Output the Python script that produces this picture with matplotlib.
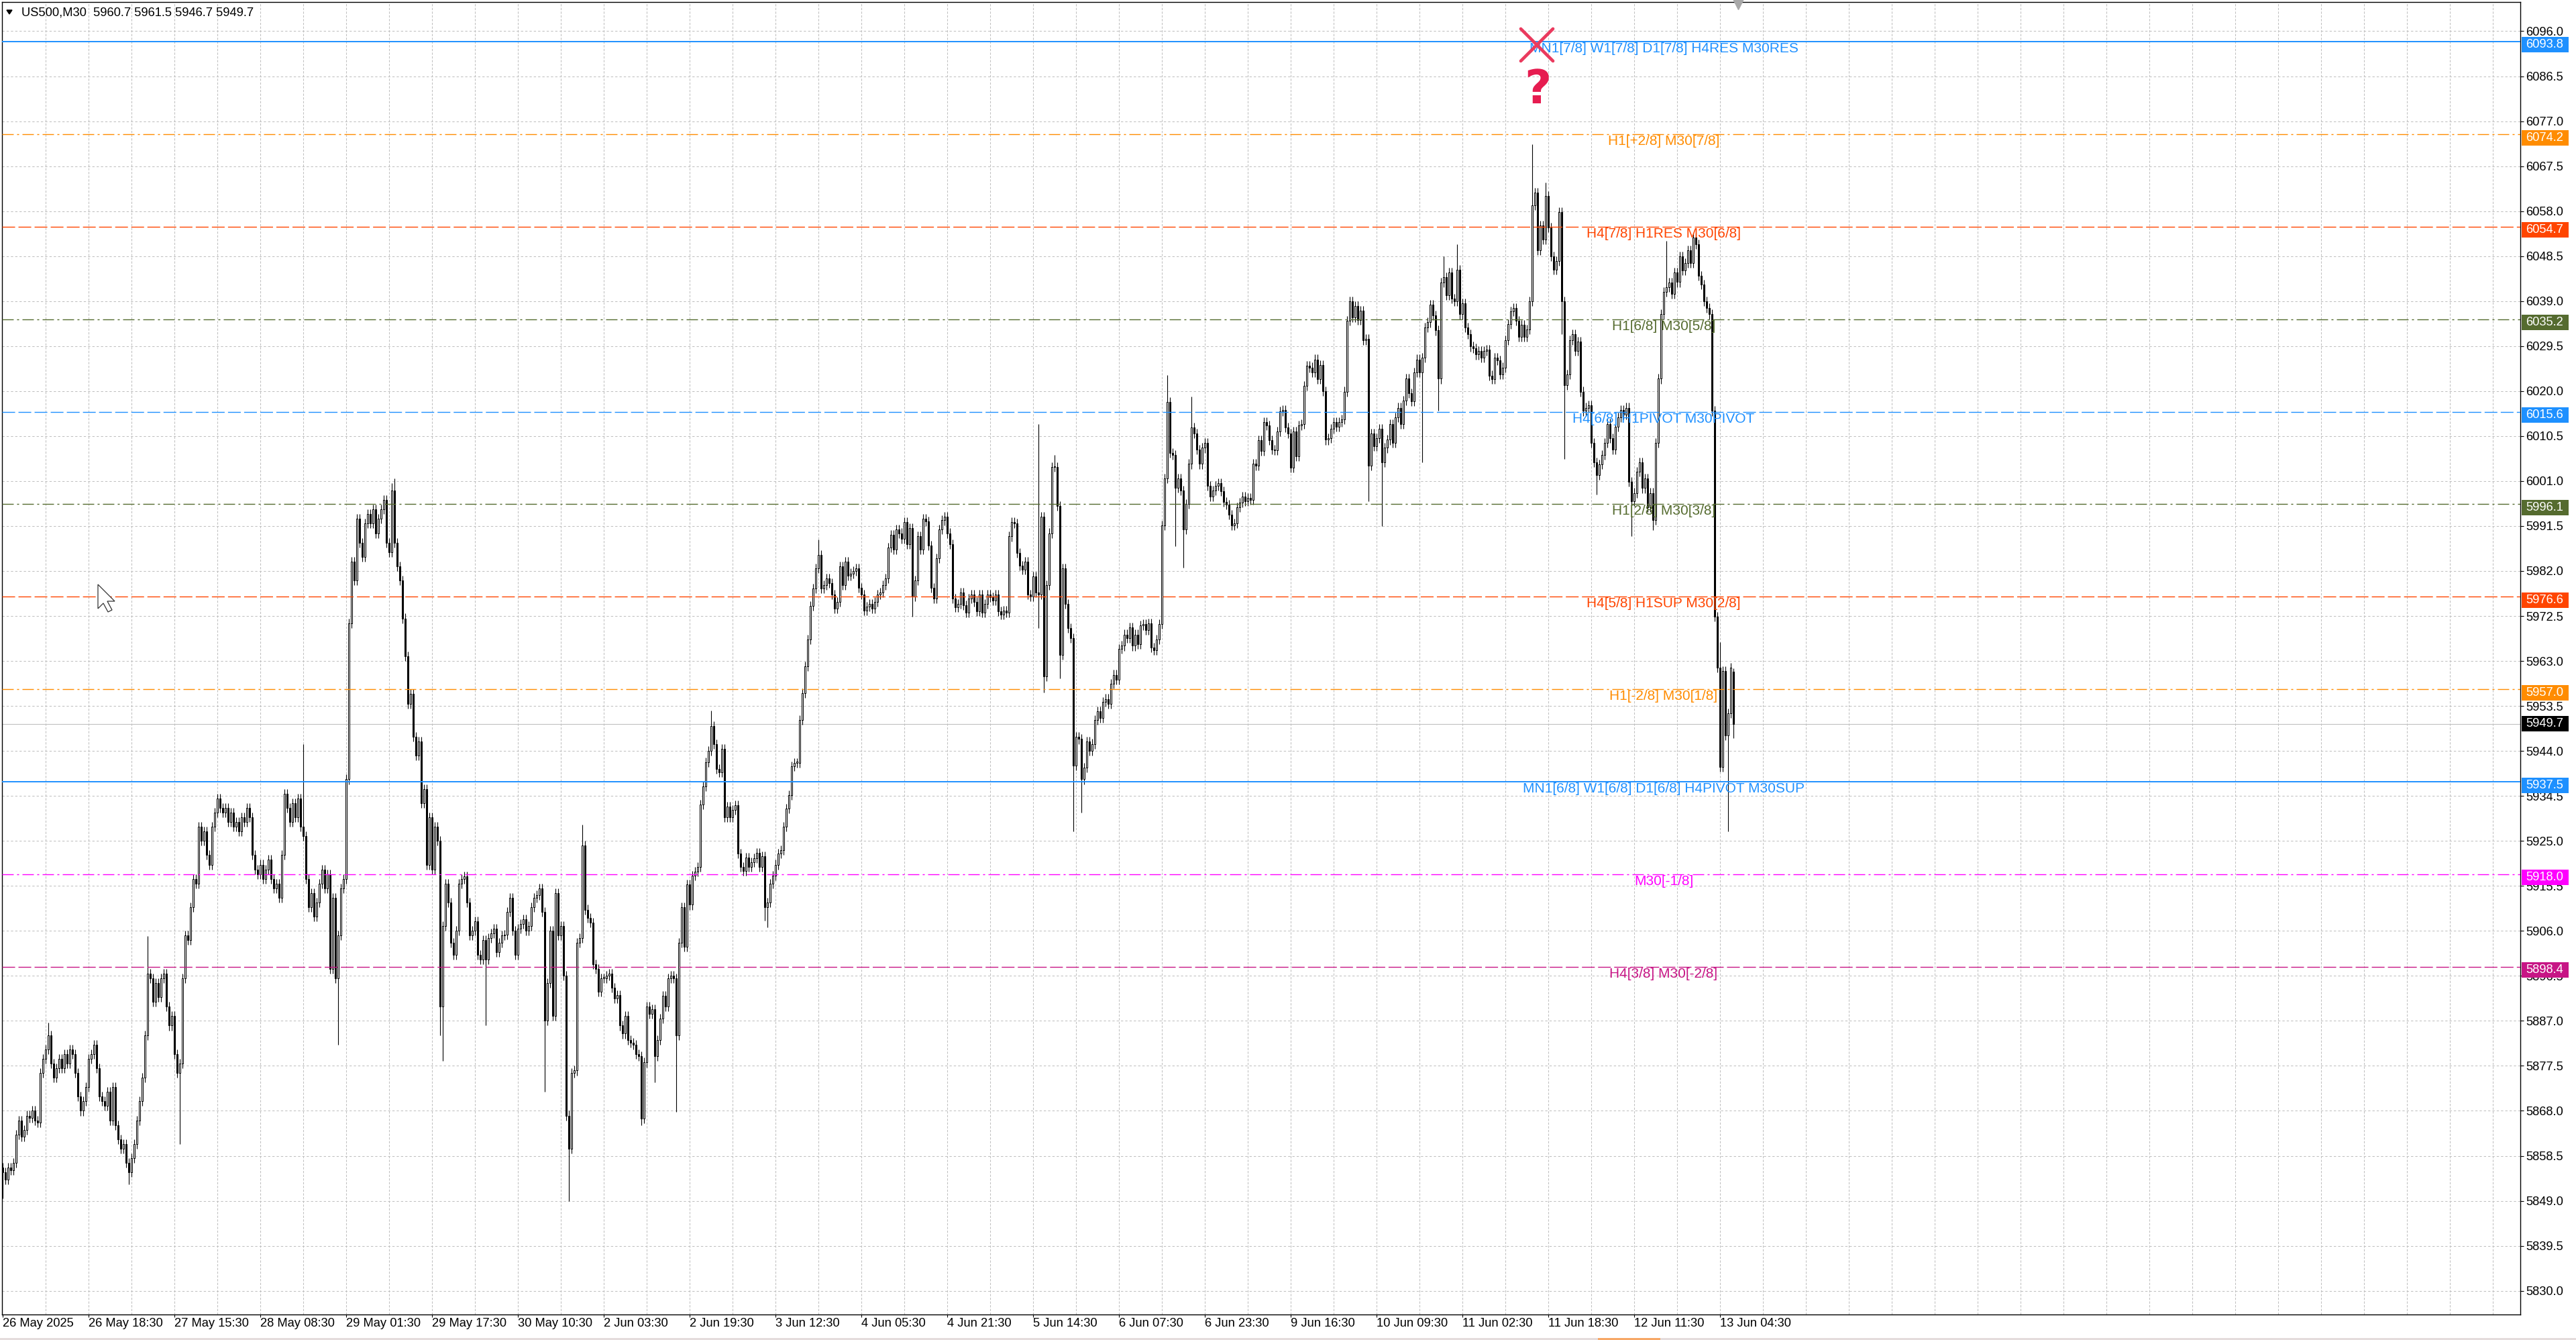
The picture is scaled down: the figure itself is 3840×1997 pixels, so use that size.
import numpy as np
import matplotlib
matplotlib.use("Agg")
import matplotlib.pyplot as plt
from matplotlib.patches import Rectangle, Polygon
import matplotlib.transforms as mtransforms

plt.rcParams['font.family'] = ['Liberation Sans', 'DejaVu Sans']
plt.rcParams['lines.scale_dashes'] = False

# ---------------------------------------------------------------- data
symbol = "US500,M30"
last_ohlc = [5960.7, 5961.5, 5946.7, 5949.7]
first_open = 5856.0

closes = [
    # 26 May - 29 May
    5855.0, 5853.5, 5856.0, 5855.5, 5857.0, 5863.0, 5866.0, 5862.5, 5864.0, 5867.0,
    5866.5, 5868.0, 5866.0, 5865.5, 5876.0, 5879.0, 5881.0, 5884.0, 5878.0, 5875.0,
    5877.0, 5879.0, 5877.0, 5880.0, 5878.0, 5881.0, 5880.0, 5876.0, 5871.0, 5868.0,
    5870.0, 5873.0, 5879.0, 5880.0, 5882.0, 5877.0, 5871.0, 5870.0, 5869.0, 5872.0,
    5866.0, 5873.0, 5865.0, 5862.0, 5860.0, 5861.0, 5857.0, 5855.0, 5858.0, 5861.0,
    5866.0, 5870.0, 5875.0, 5884.0, 5897.0, 5896.0, 5891.0, 5895.0, 5892.0, 5896.0,
    5897.0, 5890.0, 5886.0, 5888.0, 5880.0, 5876.0, 5878.0, 5896.0, 5905.0, 5904.0,
    5911.0, 5917.0, 5916.0, 5928.0, 5925.0, 5927.0, 5922.0, 5920.0, 5928.0, 5931.0,
    5934.0, 5932.0, 5931.0, 5932.0, 5929.0, 5931.0, 5928.0, 5929.0, 5927.0, 5930.0,
    5929.0, 5932.0, 5930.0, 5922.0, 5919.0, 5918.0, 5920.0, 5917.0, 5919.0, 5921.0,
    5917.0, 5915.0, 5916.0, 5913.0, 5922.0, 5935.0, 5932.0, 5929.0, 5933.0, 5930.0,
    5934.0, 5928.0, 5926.0, 5917.0, 5911.0, 5914.0, 5909.0, 5912.0, 5916.0, 5919.0,
    5915.0, 5918.0, 5898.0, 5913.0, 5896.0, 5905.0, 5915.0, 5917.0, 5938.0, 5971.0,
    5984.0, 5980.0, 5993.0, 5988.0, 5985.0, 5992.0, 5994.0, 5992.0, 5995.0, 5990.0,
    5993.0, 5995.0, 5997.0, 5988.0, 5986.0, 5999.0, 5988.0, 5983.0, 5980.0, 5972.0,
    5964.0, 5954.0, 5956.0, 5947.0, 5943.0, 5946.0, 5933.0, 5936.0, 5920.0, 5930.0,
    5919.0,
    # 29 May - 3 Jun
    5928.0, 5925.0, 5890.0, 5907.0, 5916.0, 5912.0, 5903.5, 5901.0, 5906.0, 5916.0,
    5917.0, 5917.5, 5912.0, 5905.0, 5906.0, 5908.0, 5901.0, 5900.0, 5904.0, 5900.0,
    5904.5, 5905.5, 5906.5, 5901.5, 5903.5, 5905.0, 5905.2, 5910.0, 5913.0, 5906.0,
    5901.0, 5906.5, 5907.5, 5908.5, 5906.0, 5907.0, 5911.0, 5913.0, 5913.5, 5915.0,
    5910.0, 5887.0, 5895.0, 5906.0, 5888.0, 5914.0, 5905.0, 5907.0, 5896.5, 5867.0,
    5860.0, 5876.0, 5876.5, 5903.5, 5904.5, 5924.0, 5910.5, 5908.7, 5907.8, 5899.0,
    5898.0, 5893.2, 5896.0, 5896.0, 5896.5, 5897.0, 5894.0, 5891.8, 5892.5, 5886.0,
    5884.3, 5888.0, 5883.0, 5882.4, 5882.0, 5880.0, 5879.5, 5866.4, 5878.2, 5890.0,
    5888.5, 5889.5, 5879.5, 5883.0, 5887.5, 5892.3, 5890.0, 5896.0, 5896.5, 5896.0,
    5884.0, 5903.5, 5911.0, 5902.6, 5915.8, 5911.5, 5917.7, 5918.5, 5919.5, 5932.7,
    5936.5, 5941.6, 5944.0, 5949.2, 5945.4, 5940.2, 5939.5, 5944.5, 5930.0, 5932.2,
    5930.0, 5931.5, 5932.5, 5922.4, 5919.5, 5918.6, 5921.5, 5919.5, 5920.5, 5921.3,
    5922.5, 5919.5, 5921.8, 5911.0, 5912.0, 5916.0, 5917.7, 5920.0, 5922.4, 5923.0,
    5928.0, 5931.8, 5934.7, 5940.7, 5941.5, 5941.5, 5950.6, 5956.2, 5961.9, 5967.5,
    5974.6, 5978.3, 5982.6, 5985.4, 5978.3, 5979.0, 5980.5, 5979.5, 5977.0, 5974.0,
    5975.5, 5983.0, 5979.0, 5984.0, 5981.0, 5981.5, 5982.0, 5982.5, 5978.4, 5977.0,
    5973.6, 5974.5, 5975.0,
    # 3 Jun - 9 Jun
    5974.0, 5975.5, 5977.0, 5977.5, 5979.0, 5980.5, 5987.0, 5989.6, 5986.6, 5990.8,
    5990.0, 5988.8, 5992.3, 5987.7, 5991.0, 5976.6, 5980.0, 5989.3, 5986.5, 5993.0,
    5992.5, 5987.4, 5978.5, 5976.2, 5984.7, 5990.8, 5992.7, 5993.5, 5990.0, 5987.7,
    5976.2, 5974.3, 5975.0, 5977.4, 5974.8, 5973.2, 5976.2, 5977.0, 5975.5, 5973.5,
    5977.0, 5973.2, 5975.0, 5977.0, 5976.5, 5975.7, 5977.0, 5973.5, 5972.8, 5973.6,
    5973.2, 5989.3, 5992.3, 5992.0, 5985.8, 5983.1, 5982.3, 5984.0, 5977.0, 5976.6,
    5980.8, 5977.5, 5977.0, 5993.5, 5959.7, 5979.0, 5990.0, 6003.9, 6004.0, 5995.8,
    5964.3, 5982.6, 5975.0, 5970.0, 5967.8, 5940.9, 5947.0, 5946.5, 5938.0, 5940.5,
    5946.0, 5944.0, 5945.5, 5950.5, 5952.4, 5951.0, 5954.4, 5955.0, 5954.0, 5958.2,
    5960.1, 5959.0, 5965.5, 5966.2, 5968.6, 5967.8, 5970.1, 5966.2, 5968.6, 5966.5,
    5970.5, 5970.8, 5969.5, 5971.0, 5965.9, 5965.3, 5967.5, 5970.8, 5991.6, 6001.5,
    6017.7, 6006.9, 6006.5, 5999.6, 6001.5, 5999.0, 5990.8, 5996.2, 6004.6, 6012.3,
    6011.0, 6007.7, 6004.6, 6008.0, 6009.0, 6000.0, 5997.7, 5999.0, 6000.0, 6000.5,
    5998.9, 5996.6, 5996.0, 5993.9, 5991.6, 5992.0, 5995.4, 5996.5, 5997.7, 5996.8,
    5997.5, 5997.0, 6004.6, 6004.3, 6009.6, 6007.3, 6013.4, 6012.8, 6009.6, 6007.7,
    6007.5, 6011.5, 6015.7, 6016.0, 6012.3, 6011.0, 6003.8, 6011.5, 6006.2, 6012.7,
    6013.0, 6021.1, 6025.4,
    # 9 Jun - 13 Jun
    6025.0, 6024.0, 6026.7, 6022.5, 6025.5, 6020.0, 6009.7, 6010.0, 6012.0, 6013.5,
    6012.5, 6013.5, 6014.0, 6019.9, 6034.8, 6038.9, 6035.5, 6038.0, 6035.0, 6037.0,
    6030.7, 6031.0, 6004.3, 6011.0, 6008.4, 6010.0, 6012.0, 6005.0, 6008.0, 6009.7,
    6013.0, 6009.0, 6014.5, 6016.5, 6013.0, 6018.0, 6022.6, 6019.5, 6017.8, 6024.0,
    6026.7, 6024.0, 6027.0, 6033.4, 6034.5, 6038.2, 6036.0, 6032.8, 6022.6, 6042.9,
    6044.0, 6040.2, 6045.0, 6039.5, 6038.9, 6045.6, 6036.2, 6038.5, 6033.4, 6032.0,
    6029.4, 6029.0, 6027.7, 6028.5, 6027.0, 6028.5, 6028.8, 6023.3, 6022.5, 6027.0,
    6026.5, 6023.5, 6025.0, 6030.7, 6034.1, 6036.8, 6037.5, 6034.8, 6031.4, 6034.0,
    6031.4, 6033.0, 6038.9, 6059.2, 6061.9, 6049.7, 6055.0, 6052.0, 6061.2, 6054.5,
    6048.4, 6045.6, 6047.5, 6057.8, 6038.9, 6021.2, 6023.5, 6030.7, 6032.0, 6028.5,
    6030.5, 6019.9, 6015.8, 6016.5, 6017.0, 6009.0, 6005.0, 6002.2, 6004.5, 6006.5,
    6009.0, 6013.1, 6010.0, 6007.7, 6012.5, 6014.5, 6016.0, 6015.0, 6016.5, 6000.9,
    5996.8, 5998.5, 6003.0, 6005.0, 5999.5, 6001.5, 5995.5, 5998.5, 5992.8, 6009.0,
    6022.6, 6036.2, 6040.9, 6042.0, 6042.9, 6040.5, 6045.0, 6043.0, 6048.4, 6045.5,
    6047.0, 6049.7, 6047.0, 6052.4, 6051.0, 6044.3, 6042.5, 6038.9, 6037.5, 6036.2,
    6015.8, 5972.4, 5961.6, 5940.6, 5960.9, 5947.3, 5952.0, 5961.6, 5949.7,
]

high_spikes = {17: 5886.7, 54: 5904.9, 112: 5945.4, 145: 6000.5, 146: 6001.5,
               216: 5928.5, 264: 5952.5, 304: 5988.7, 386: 6013.0, 392: 6006.5,
               434: 6023.4, 443: 6018.8, 537: 6048.4, 542: 6051.0, 570: 6072.1,
               575: 6064.0, 580: 6058.5, 620: 6051.7, 631: 6053.0, 640: 5967.0}
low_spikes = {0: 5849.5, 47: 5852.5, 66: 5861.0, 125: 5882.0, 163: 5884.0,
              164: 5878.6, 180: 5886.0, 202: 5872.0, 211: 5849.0, 238: 5865.0,
              243: 5874.0, 251: 5867.8, 284: 5908.2, 285: 5906.8, 339: 5972.4,
              386: 5970.0, 388: 5956.3, 394: 5959.3, 399: 5927.0, 402: 5931.0,
              437: 5987.3, 440: 5982.7, 509: 5996.8, 514: 5991.5, 529: 6005.0,
              535: 6015.8, 581: 6032.0, 582: 6005.6, 594: 5998.2, 607: 5989.4,
              615: 5990.7, 641: 5940.0, 643: 5927.0}

level_prices = [6093.8, 6074.2, 6054.7, 6035.2, 6015.6, 5996.1,
                5976.6, 5957.0, 5937.5, 5918.0, 5898.4]
level_labels = ["MN1[7/8] W1[7/8] D1[7/8] H4RES M30RES",
                "H1[+2/8] M30[7/8]",
                "H4[7/8] H1RES M30[6/8]",
                "H1[6/8] M30[5/8]",
                "H4[6/8] H1PIVOT M30PIVOT",
                "H1[2/8] M30[3/8]",
                "H4[5/8] H1SUP M30[2/8]",
                "H1[-2/8] M30[1/8]",
                "MN1[6/8] W1[6/8] D1[6/8] H4PIVOT M30SUP",
                "M30[-1/8]",
                "H4[3/8] M30[-2/8]"]
level_colors = ['#1E90FF', '#FF8C00', '#FF4500', '#556B2F', '#1E90FF', '#556B2F',
                '#FF4500', '#FF8C00', '#1E90FF', '#FF00FF', '#C71585']
level_styles = ['solid', 'dashdot', 'dash', 'dashdot', 'dash', 'dashdot',
                'dash', 'dashdot', 'solid', 'dashdot', 'dash']

y_ticks = [6096.0, 6086.5, 6077.0, 6067.5, 6058.0, 6048.5, 6039.0, 6029.5, 6020.0,
           6010.5, 6001.0, 5991.5, 5982.0, 5972.5, 5963.0, 5953.5, 5944.0, 5934.5,
           5925.0, 5915.5, 5906.0, 5896.5, 5887.0, 5877.5, 5868.0, 5858.5, 5849.0,
           5839.5, 5830.0]
x_tick_labels = ["26 May 2025", "26 May 18:30", "27 May 15:30", "28 May 08:30",
                 "29 May 01:30", "29 May 17:30", "30 May 10:30", "2 Jun 03:30",
                 "2 Jun 19:30", "3 Jun 12:30", "4 Jun 05:30", "4 Jun 21:30",
                 "5 Jun 14:30", "6 Jun 07:30", "6 Jun 23:30", "9 Jun 16:30",
                 "10 Jun 09:30", "11 Jun 02:30", "11 Jun 18:30", "12 Jun 11:30",
                 "13 Jun 04:30"]
bars_per_label = 32
bars_per_grid = 16

# ---------------------------------------------------------------- layout
W, H, DPI = 3840, 1997, 100
PT = 72.0 / DPI          # points per pixel
L_PX, R_PX, T_PX, B_PX = 3, 3757, 3, 1959
Y_TOP, Y_BOT = 6102.16, 5824.99
X_MIN, X_MAX = -0.25, 938.25
FS = 13.2
LABEL_X = 619

fig = plt.figure(figsize=(W / DPI, H / DPI), dpi=DPI, facecolor='white')
ax = fig.add_axes([L_PX / W, 1 - B_PX / H, (R_PX - L_PX) / W, (B_PX - T_PX) / H])
ax.set_facecolor('white')
ax.set_xlim(X_MIN, X_MAX)
ax.set_ylim(Y_BOT, Y_TOP)
px_per_unit = (B_PX - T_PX) / (Y_TOP - Y_BOT)
ax_w_px = R_PX - L_PX

# grid
for y in y_ticks:
    ax.axhline(y, color='#c0c0c0', lw=0.75, dashes=(2.4, 2.2), zorder=0.5)
for xg in range(bars_per_grid, int(X_MAX) + 1, bars_per_grid):
    ax.axvline(xg, color='#c0c0c0', lw=0.75, dashes=(2.4, 1.6), zorder=0.5)

# bid line
ax.axhline(last_ohlc[3], color='#c0c0c0', lw=0.8, zorder=1.8)

# candles
c = np.array(closes, dtype=float)
n = len(c)
idx = np.arange(n)
o = np.r_[first_open, c[:-1]]
o[-1] = last_ohlc[0]
WICK = 1.0
hi = np.maximum(o, c) + WICK
lo = np.minimum(o, c) - WICK
for k, v in high_spikes.items():
    hi[k] = max(hi[k], v)
for k, v in low_spikes.items():
    lo[k] = min(lo[k], v)
hi[-1] = last_ohlc[1]
lo[-1] = last_ohlc[2]

ax.vlines(idx, lo, hi, colors='black', lw=0.8, zorder=2)
body = c - o
up = body >= 0
hgt = np.where(np.abs(body) < 0.2, np.where(up, 0.2, -0.2), body)
ax.bar(idx[up], hgt[up], bottom=o[up], width=0.68, facecolor='white',
       edgecolor='black', linewidth=0.75, zorder=2.2)
ax.bar(idx[~up], hgt[~up], bottom=o[~up], width=0.68, facecolor='black',
       edgecolor='black', linewidth=0.75, zorder=2.2)

# level lines + labels
dash_map = {'dash': (13.7, 3.6), 'dashdot': (12.2, 3.6, 2.2, 3.6)}
for p, lab, col, st in zip(level_prices, level_labels, level_colors, level_styles):
    if st == 'solid':
        ax.axhline(p, color=col, lw=1.4, zorder=3)
    else:
        ax.axhline(p, color=col, lw=1.0, dashes=dash_map[st], zorder=3)
    ax.annotate(lab, xy=(LABEL_X, p), xytext=(0, -10.5 * PT), textcoords='offset points',
                ha='center', va='center', color=col, fontsize=15.0, zorder=4)

# axes styling
for s in ax.spines.values():
    s.set_color('black')
    s.set_linewidth(1.0)
ax.yaxis.tick_right()
ax.set_yticks(y_ticks)
ax.set_yticklabels([f'{v:.1f}' for v in y_ticks])
ax.tick_params(axis='y', right=True, left=False, length=5 * PT, width=0.8,
               pad=3 * PT, labelsize=FS, colors='black')
xt = [k * bars_per_label for k in range(len(x_tick_labels))]
ax.set_xticks(xt)
ax.set_xticklabels(x_tick_labels, ha='left')
ax.tick_params(axis='x', length=4 * PT, width=0.8, pad=1.0, labelsize=FS, colors='black')

# price boxes on the right scale
trans = mtransforms.blended_transform_factory(ax.transAxes, ax.transData)
box_x0 = (3759 - L_PX) / ax_w_px
box_w = 70 / ax_w_px
txt_x = (3765 - L_PX) / ax_w_px
box_h = 23 / px_per_unit
for p, col in zip(level_prices, level_colors):
    yc = p - 5 / px_per_unit
    ax.add_patch(Rectangle((box_x0, yc - box_h / 2), box_w, box_h, transform=trans,
                           facecolor=col, edgecolor='none', clip_on=False, zorder=5))
    ax.text(txt_x, yc, f'{p:.1f}', transform=trans, color='white', fontsize=FS,
            ha='left', va='center', clip_on=False, zorder=6)
bid = last_ohlc[3]
ax.add_patch(Rectangle((box_x0, bid - box_h / 2), box_w, box_h, transform=trans,
                       facecolor='black', edgecolor='none', clip_on=False, zorder=5))
ax.text(txt_x, bid, f'{bid:.1f}', transform=trans, color='white', fontsize=FS,
        ha='left', va='center', clip_on=False, zorder=6)

# marker above the peak
peak = int(np.argmax(hi))
mx = peak + 1.75
my = level_prices[0] - 0.7
dx, dy = 6.0, 24 / px_per_unit
ax.plot([mx - dx, mx + dx], [my + dy, my - dy], color='#EA3A5E', lw=3.4,
        solid_capstyle='round', zorder=7, clip_on=False)
ax.plot([mx - dx, mx + dx], [my - dy, my + dy], color='#EA3A5E', lw=3.4,
        solid_capstyle='round', zorder=7, clip_on=False)
ax.text(mx + 0.25, my - 68 / px_per_unit, '?', color='#E61C50', fontsize=50,
        fontweight='bold', family='DejaVu Sans', ha='center', va='center', zorder=7)

# chart-shift marker at the top
ax.plot([n - 1 + 1.75], [Y_TOP - 1.5 / px_per_unit], marker='v', markersize=13,
        color='#a8a8a8', markeredgecolor='#a8a8a8', clip_on=False, zorder=8)


# header
def fpx(x, y):
    return (x / W, 1 - y / H)


fig.add_artist(Polygon([fpx(10, 15), fpx(18, 15), fpx(14, 21)], closed=True,
                       transform=fig.transFigure, facecolor='black', edgecolor='black'))
fig.text(32 / W, 1 - 19 / H, f"{symbol}  " + " ".join(f"{v:.1f}" for v in last_ohlc),
         fontsize=FS, ha='left', va='center', color='black')

# mouse pointer
ptr = [(146, 871), (146, 907), (154, 899), (161, 912), (167, 909), (160, 896), (171, 896)]
fig.add_artist(Polygon([fpx(*p) for p in ptr], closed=True, transform=fig.transFigure,
                       facecolor='white', edgecolor='#333333', lw=0.9, zorder=10))

# bottom strip
fig.add_artist(Rectangle((0, 0), 1, 3 / H, transform=fig.transFigure,
                         facecolor='#e4dcdc', edgecolor='none'))
fig.add_artist(Rectangle((2382 / W, 0), 93 / W, 3 / H, transform=fig.transFigure,
                         facecolor='#f7a866', edgecolor='none'))

fig.savefig('out.png', dpi=DPI, facecolor='white')
